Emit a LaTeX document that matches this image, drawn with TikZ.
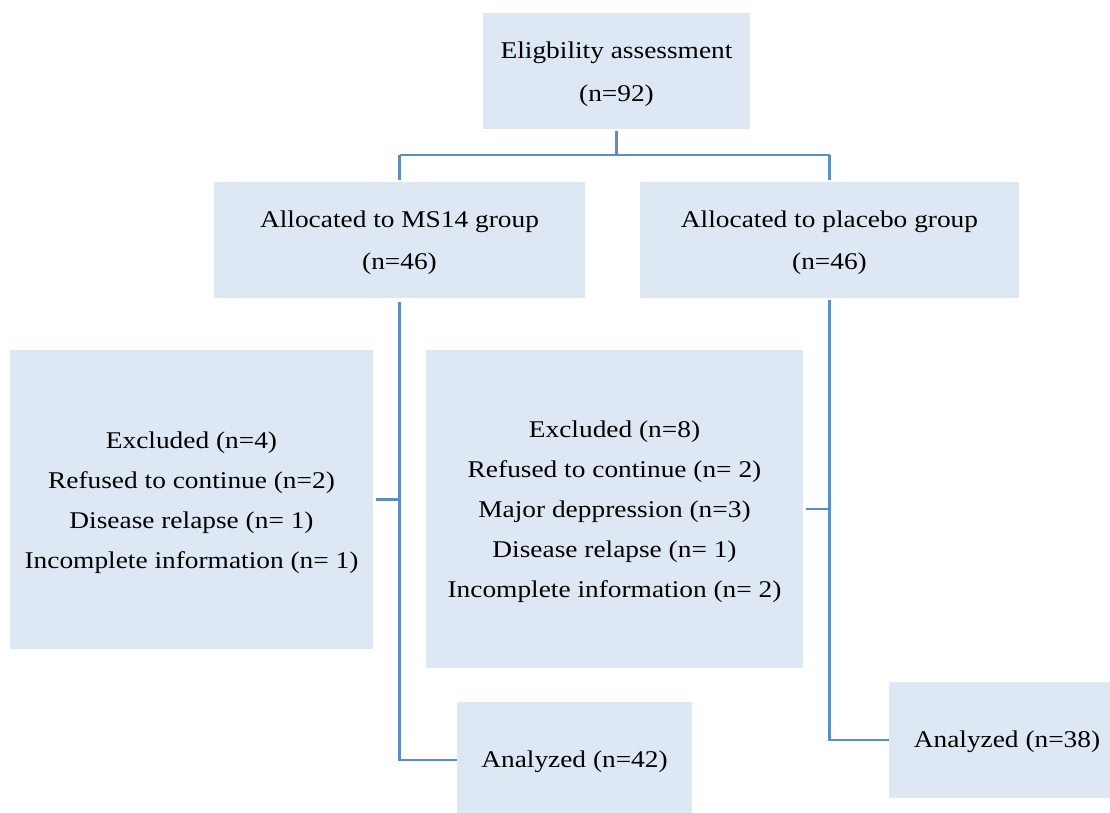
\documentclass[tikz,border=0pt]{standalone}
\usepackage{fontspec}
\setmainfont[FakeStretch=1.14]{Liberation Serif}
\definecolor{boxfill}{HTML}{DDE8F4}
\definecolor{linkcol}{HTML}{5A8FC6}
\begin{document}
\begin{tikzpicture}[x=1pt,y=-1pt,
  box/.style={rectangle, fill=boxfill, draw=none, inner sep=0pt},
  txt/.style={inner sep=0pt, align=center, font=\fontsize{24}{40}\selectfont},
  link/.style={draw=linkcol, line width=2.6pt}]
\useasboundingbox (0,0) rectangle (1110,812);
\node[box, minimum width=267pt, minimum height=116pt] (top) at (616.5,71) {};
\node[txt, font=\fontsize{24}{43}\selectfont] (toptxt) at ([yshift=-3pt]top.center) {Eligbility assessment\\(n=92)};
\node[box, minimum width=371pt, minimum height=116pt] (g1) at (399.5,240) {};
\node[txt, font=\fontsize{24}{42}\selectfont] (g1txt) at ([yshift=-3pt]g1.center) {Allocated to MS14 group\\(n=46)};
\node[box, minimum width=379pt, minimum height=116pt] (g2) at (829.5,240) {};
\node[txt, font=\fontsize{24}{42}\selectfont] (g2txt) at ([yshift=-3pt]g2.center) {Allocated to placebo group\\(n=46)};
\node[box, minimum width=363pt, minimum height=299pt] (ex1) at (191.5,499.5) {};
\node[txt] (ex1txt) at ([yshift=-3pt]ex1.center) {Excluded (n=4)\\Refused to continue (n=2)\\Disease relapse (n= 1)\\Incomplete information (n= 1)};
\node[box, minimum width=377pt, minimum height=318pt] (ex2) at (614.5,509) {};
\node[txt] (ex2txt) at ([yshift=-3pt]ex2.center) {Excluded (n=8)\\Refused to continue (n= 2)\\Major deppression (n=3)\\Disease relapse (n= 1)\\Incomplete information (n= 2)};
\node[box, minimum width=235pt, minimum height=116pt] (a1) at (574.5,760) {};
\node[txt] (a1txt) at ([yshift=-2pt]a1.center) {Analyzed (n=42)};
\node[box, minimum width=236pt, minimum height=116pt] (a2) at (1007,740) {};
\node[txt] (a2txt) at ([yshift=-2pt]a2.center) {Analyzed (n=38)};
\coordinate (split) at (616.5,155);
\draw[link] ([yshift=-2pt]top.south) -- (split);
\draw[link] (split -| g1.north) -- (split -| g2.north);
\draw[link] (split -| g1.north) -- ([yshift=2pt]g1.north);
\draw[link] (split -| g2.north) -- ([yshift=2pt]g2.north);
\draw[link] ([yshift=-4pt]g1.south) |- (a1.west);
\draw[link] ([yshift=-2pt]g2.south) |- (a2.west);
\draw[link] ([xshift=3pt]ex1.east) -- (ex1.east -| g1.south);
\draw[link] ([xshift=3pt]ex2.east) -- (ex2.east -| g2.south);
\end{tikzpicture}
\end{document}
